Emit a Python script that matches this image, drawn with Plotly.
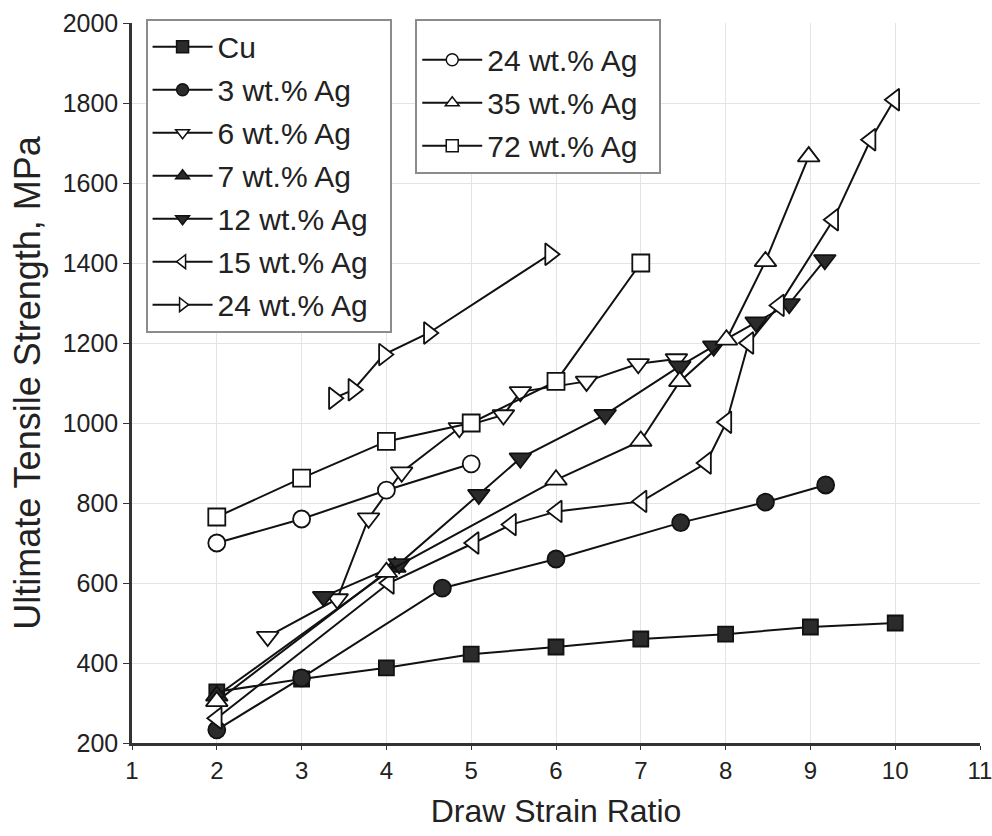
import plotly.graph_objects as go

# Draw strain ratio (x) and ultimate tensile strength in MPa (y) for each alloy
cu_x = [2, 3, 4, 5, 6, 7, 8, 9, 10]
cu_y = [328, 360, 388, 422, 440, 460, 472, 490, 500]

ag3_x = [2, 3, 4.66, 6, 7.47, 8.47, 9.18]
ag3_y = [233, 363, 587, 660, 751, 802, 845]

ag6_x = [2.6, 3.42, 3.79, 4.18, 4.86, 5.38, 5.58, 6.36, 6.97, 7.42]
ag6_y = [466, 560, 762, 877, 988, 1020, 1078, 1104, 1148, 1160]

ag7_x = [2, 4.1]
ag7_y = [318, 640]

ag12_x = [3.26, 4.15, 5.09, 5.58, 6.58, 7.46, 7.86, 8.36, 8.75, 9.17]
ag12_y = [566, 648, 821, 912, 1021, 1142, 1192, 1252, 1298, 1408]

ag15_x = [2, 4.03, 5.03, 5.47, 6.01, 7.01, 7.77, 8.01, 8.27, 8.63, 9.27, 9.71, 9.99]
ag15_y = [262, 600, 700, 746, 779, 804, 900, 1002, 1200, 1294, 1508, 1708, 1808]

ag24r_x = [3.38, 3.61, 3.97, 4.5, 5.93]
ag24r_y = [1062, 1083, 1171, 1225, 1422]

ag24c_x = [2, 3, 4, 5]
ag24c_y = [700, 760, 832, 898]

ag35_x = [2, 4, 6, 7, 7.46, 8.01, 8.47, 8.98]
ag35_y = [304, 627, 858, 955, 1104, 1208, 1404, 1666]

ag72_x = [2, 3, 4, 5, 6, 7]
ag72_y = [765, 862, 954, 1000, 1104, 1400]

x_ticks = [1, 2, 3, 4, 5, 6, 7, 8, 9, 10, 11]
y_ticks = [200, 400, 600, 800, 1000, 1200, 1400, 1600, 1800, 2000]

DARK = "#2b2b2b"
INK = "#111111"
TEXT = "#222222"
FONT = "Liberation Sans, Arial, sans-serif"
PAD = "\u00a0\u00a0"  # keeps some room to the right of the legend labels

series = [
    # name, x, y, symbol, filled, size, legend
    ("Cu", cu_x, cu_y, "square", True, 15, "legend"),
    ("3 wt.% Ag", ag3_x, ag3_y, "circle", True, 17, "legend"),
    ("6 wt.% Ag", ag6_x, ag6_y, "triangle-down", False, 19, "legend"),
    ("7 wt.% Ag", ag7_x, ag7_y, "triangle-up", True, 19, "legend"),
    ("12 wt.% Ag", ag12_x, ag12_y, "triangle-down", True, 19, "legend"),
    ("15 wt.% Ag", ag15_x, ag15_y, "triangle-left", False, 19, "legend"),
    ("24 wt.% Ag", ag24r_x, ag24r_y, "triangle-right", False, 19, "legend"),
    ("24 wt.% Ag", ag24c_x, ag24c_y, "circle", False, 17, "legend2"),
    ("35 wt.% Ag", ag35_x, ag35_y, "triangle-up", False, 19, "legend2"),
    ("72 wt.% Ag", ag72_x, ag72_y, "square", False, 17, "legend2"),
]

fig = go.Figure()
for i, (name, xs, ys, sym, filled, size, leg) in enumerate(series):
    fill = DARK if filled else "white"
    # data curve
    fig.add_trace(go.Scatter(
        x=xs, y=ys, name=name, mode="lines+markers", showlegend=False,
        legendgroup=f"g{i}",
        line=dict(color=INK, width=2),
        marker=dict(symbol=sym, size=size, color=fill,
                    line=dict(color=INK, width=1.8)),
    ))
    # legend key with a thinner line and smaller symbol
    fig.add_trace(go.Scatter(
        x=[None], y=[None], name=name + PAD, mode="lines+markers",
        legend=leg, legendgroup=f"g{i}",
        line=dict(color=INK, width=2),
        marker=dict(symbol=sym, size=12, color=fill,
                    line=dict(color=INK, width=1.5)),
    ))

legend_style = dict(
    bgcolor="white", bordercolor="#8c8c8c", borderwidth=2,
    font=dict(family=FONT, size=30, color=TEXT),
    itemsizing="trace", traceorder="grouped", tracegroupgap=1,
    itemwidth=60, xanchor="left", yanchor="top",
)

fig.update_layout(
    width=992, height=836,
    margin=dict(l=131.5, r=12, t=23.3, b=92.7, autoexpand=False),
    paper_bgcolor="white", plot_bgcolor="white",
    font=dict(family=FONT, color=TEXT),
    showlegend=True,
    legend=dict(x=0.016, y=1.006, **legend_style),
    legend2=dict(x=0.334, y=1.006,
                 title=dict(text=" ", font=dict(family=FONT, size=10)),
                 **legend_style),
    xaxis=dict(
        range=[1, 11], tickvals=x_ticks, ticktext=[str(v) for v in x_ticks],
        automargin=False, ticklabeloverflow="allow",
        showgrid=True, gridcolor="#e4e4e4", gridwidth=1,
        showline=True, linecolor="#333333", linewidth=2.5,
        ticks="outside", ticklen=4, tickcolor="#333333",
        tickfont=dict(family=FONT, size=24, color=TEXT),
        title=dict(text="Draw Strain Ratio", font=dict(family=FONT, size=32, color=TEXT), standoff=18),
        zeroline=False,
    ),
    yaxis=dict(
        range=[200, 2000], tickvals=y_ticks, ticktext=[str(v) for v in y_ticks],
        automargin=False,
        showgrid=True, gridcolor="#e4e4e4", gridwidth=1,
        showline=True, linecolor="#333333", linewidth=2.5,
        ticks="outside", ticklen=6, tickcolor="#333333",
        tickfont=dict(family=FONT, size=25, color=TEXT),
        title=dict(text="Ultimate Tensile Strength, MPa", font=dict(family=FONT, size=36, color=TEXT), standoff=12),
        zeroline=False,
    ),
)

fig.write_html("out.html")
